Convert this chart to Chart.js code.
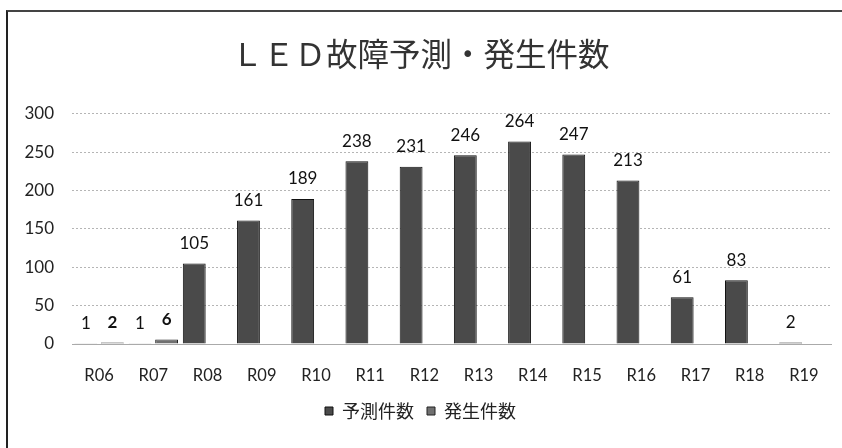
<!DOCTYPE html>
<html>
<head>
<meta charset="utf-8">
<script src="https://cdn.jsdelivr.net/npm/chart.js@4.4.1/dist/chart.umd.min.js"></script>
<style>
  html, body { margin: 0; padding: 0; background: #fff; }
  #wrap { position: relative; width: 842px; height: 448px; overflow: hidden; }
  #frame { position: absolute; left: 6px; top: 10px; width: 900px; height: 500px;
           border-left: 2px solid #222; border-top: 2px solid #444; }
  canvas { position: absolute; left: 0; top: 0; }
</style>
</head>
<body>
<div id="wrap">
  <div id="frame"></div>
  <canvas id="grafico" width="842" height="448"></canvas>
</div>
<script>
// ==============================
// DATOS
// ==============================
const categorias = ["R06", "R07", "R08", "R09", "R10", "R11", "R12", "R13", "R14", "R15", "R16", "R17", "R18", "R19"];
const prediccion = [1, 1, 105, 161, 189, 238, 231, 246, 264, 247, 213, 61, 83, 2];
const ocurrencia = [2, 6, null, null, null, null, null, null, null, null, null, null, null, null];
const ticksY = [0, 50, 100, 150, 200, 250, 300];

// ==============================
// ETIQUETAS DE VALOR
// ==============================
const etiquetas = {
    id: 'etiquetas',
    afterDatasetsDraw(chart) {
        const ctx = chart.ctx;
        ctx.save();
        ctx.textAlign = 'center';
        ctx.textBaseline = 'middle';
        chart.data.datasets.forEach((ds, i) => {
            const meta = chart.getDatasetMeta(i);
            ctx.font = (i === 1 ? 'bold ' : '') + '17px Lato, "Open Sans", sans-serif';
            ctx.fillStyle = '#111';
            meta.data.forEach((bar, j) => {
                const v = ds.data[j];
                if (v === null || v === undefined) return;
                ctx.fillText(String(v), bar.x, bar.y - 20);
            });
        });
        ctx.restore();
    }
};

const ctx = document.getElementById('grafico').getContext('2d');

new Chart(ctx, {
    type: 'bar',
    data: {
        labels: categorias,
        datasets: [{
            label: '予測件数',
            data: prediccion,
            backgroundColor: '#4a4a4a',
            borderColor: '#111',
            borderWidth: 1,
            categoryPercentage: 0.98,
            barPercentage: 0.86
        }, {
            label: '発生件数',
            data: ocurrencia,
            backgroundColor: '#707070',
            borderColor: '#222',
            borderWidth: 1,
            categoryPercentage: 0.98,
            barPercentage: 0.86
        }]
    },
    options: {
        responsive: false,
        animation: false,
        layout: { padding: { left: 10, right: 11, top: 0, bottom: 18 } },
        plugins: {
            title: {
                display: true,
                text: 'ＬＥＤ故障予測・発生件数',
                color: '#333',
                font: { family: '"Noto Sans CJK JP"', size: 31.5, weight: 'normal' },
                padding: { top: 35, bottom: 41 }
            },
            legend: {
                position: 'bottom',
                labels: {
                    color: '#222',
                    font: { family: '"Noto Sans CJK JP"', size: 18 },
                    boxWidth: 8,
                    boxHeight: 8,
                    padding: 13
                }
            },
            tooltip: { enabled: false }
        },
        scales: {
            x: {
                afterFit(scale) { scale.height = 45; },
                grid: { display: false, drawTicks: false },
                border: { display: true, color: '#aaa', dash: [2, 2] },
                ticks: {
                    color: '#222',
                    padding: 22,
                    font: { family: 'Lato, "Open Sans", sans-serif', size: 16.5 }
                }
            },
            y: {
                min: 0,
                max: 300,
                afterFit(scale) { scale.width = 62; },
                afterBuildTicks(scale) { scale.ticks = ticksY.map(v => ({ value: v })); },
                grid: { color: '#b5b5b5', drawTicks: false },
                border: { display: false, dash: [2, 2] },
                ticks: {
                    color: '#222',
                    padding: 18,
                    font: { family: 'Lato, "Open Sans", sans-serif', size: 17 }
                }
            }
        }
    },
    plugins: [etiquetas]
});
</script>
</body>
</html>
